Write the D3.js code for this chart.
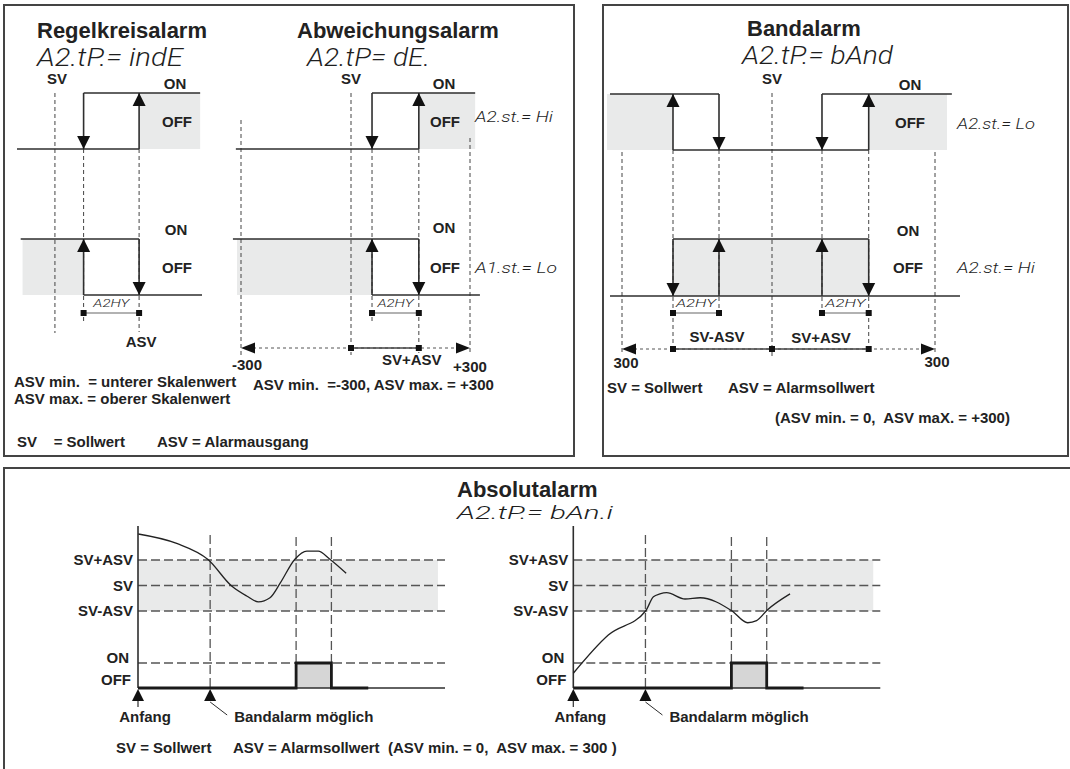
<!DOCTYPE html>
<html><head><meta charset="utf-8">
<script src="https://cdn.jsdelivr.net/npm/d3@7"></script>
<style>body{margin:0;background:#fff} svg{display:block} text{white-space:pre}</style>
</head><body><svg id="c" width="1070" height="769"></svg>
<script>
// ================= DATA =================
// Regelkreisalarm (units: % of relay width)
const rkSV = 20.5, rkLow = 36, rkASV = 66;
const rkTopOn = [[rkLow, 99]], rkTopOff = [[0, rkASV]], rkTopFill = [[rkASV, 99]];
const rkTopArrows = [[rkLow, 'down'], [rkASV, 'up']];
const rkBotOn = [[2, rkASV]], rkBotOff = [[rkLow, 100]], rkBotFill = [[3, rkLow]];
const rkBotArrows = [[rkLow, 'up'], [rkASV, 'down']];

// Abweichungsalarm (units: process value, -300 .. +300, SV = 0)
const dvScale = [-300, 0, 300];
const dvLow = 53, dvASV = 171;
const dvTopOn = [[dvLow, 313]], dvTopOff = [[-314, dvASV]], dvTopFill = [[dvASV, 313]];
const dvTopArrows = [[dvLow, 'down'], [dvASV, 'up']];
const dvBotOn = [[-322, dvASV]], dvBotOff = [[dvLow, 325]], dvBotFill = [[-311, dvLow]];
const dvBotArrows = [[dvLow, 'up'], [dvASV, 'down']];

// Bandalarm (units: process value, -300 .. +300, SV = 0)
const bdScale = [-300, 0, 300];
const bdLo = -198, bdLoH = -106, bdHiH = 92, bdHi = 178;
const bdTopOn = [[-324, bdLoH], [bdHiH, 331]], bdTopOff = [[bdLo, bdHi]];
const bdTopFill = [[-330, bdLo], [bdHi, 322]];
const bdTopArrows = [[bdLo, 'up'], [bdLoH, 'down'], [bdHiH, 'down'], [bdHi, 'up']];
const bdBotOn = [[bdLo, bdHi]], bdBotOff = [[-324, 346]], bdBotFill = [[bdLo, bdHi]];
const bdBotArrows = [[bdLo, 'down'], [bdLoH, 'up'], [bdHiH, 'up'], [bdHi, 'down']];

// Absolutalarm (time 0..100, value in ASV units relative to SV)
const absLevels = [{label: 'SV+ASV', v: 1}, {label: 'SV', v: 0}, {label: 'SV-ASV', v: -1}];
const absBandEnd = 97.7;
const absBandStart = 23.5;
const absPulse = [51.5, 63];
const absAlarm = [[0, 0], [51.5, 0], [51.5, 1], [63, 1], [63, 0], [75, 0]];
const absCurveLeft = [[0.1, 2.02], [12.6, 1.65], [22.9, 1.01], [30.5, -0.02], [35.4, -0.41], [39.2, -0.64],
  [43, -0.48], [46.3, 0.09], [51.1, 1.03], [55, 1.35], [58.7, 1.35], [62.5, 1.03], [67.8, 0.48]];
const absCurveRight = [[0, -3.44], [11.4, -1.94], [23.6, -0.99], [26.1, -0.44], [28.2, -0.33], [30.4, -0.28],
  [36.4, -0.53], [41.3, -0.48], [51.6, -0.99], [56.8, -1.46], [59.7, -1.38], [63.2, -0.96], [70.6, -0.33]];

// ================= DRAWING =================
const svg = d3.select('#c');
const gFill = svg.append('g'), gDash = svg.append('g'), gLine = svg.append('g'), gText = svg.append('g');
const INK = '#222', LINE = '#2e2e2e', DASH = '#444', FILL = '#e9eaea', PULSE = '#d6d6d6';
const BOLD = "'Liberation Sans', Arial, Helvetica, sans-serif";
const SEG = "Roboto, 'Open Sans', 'DejaVu Sans', sans-serif";

function label(s, x, y, anchor = 'start', size = 15) {
  return gText.append('text').attr('x', x).attr('y', y).attr('text-anchor', anchor)
    .attr('font-family', BOLD).attr('font-weight', 'bold').attr('font-size', size)
    .attr('fill', INK).attr('xml:space', 'preserve').text(s);
}
function seg(s, x, y, size, len) {
  return gText.append('text').attr('x', x).attr('y', y).attr('font-family', SEG)
    .attr('font-weight', 300).attr('font-style', 'italic').attr('font-size', size)
    .attr('fill', '#1e1e1e').attr('textLength', len).attr('lengthAdjust', 'spacingAndGlyphs')
    .attr('xml:space', 'preserve').text(s);
}
function ln(g, x1, y1, x2, y2, w, color, dash) {
  const l = g.append('line').attr('x1', x1).attr('y1', y1).attr('x2', x2).attr('y2', y2)
    .attr('stroke', color).attr('stroke-width', w);
  if (dash) l.attr('stroke-dasharray', dash);
  return l;
}
function vdash(x, y0, y1) { ln(gDash, x, y0, x, y1, 1, DASH, '4,3'); }
function arrowV(x, yTip, dir) {
  const h = 13, hw = 6.5;
  gLine.append('path').attr('d', `M${x},${yTip}L${x - hw},${yTip - dir * h}L${x + hw},${yTip - dir * h}Z`).attr('fill', '#111');
}
function arrowH(xTip, y, dir) {
  const h = 14, hw = 5.5;
  gLine.append('path').attr('d', `M${xTip},${y}L${xTip - dir * h},${y - hw}L${xTip - dir * h},${y + hw}Z`).attr('fill', '#111');
}
function sq(x, y) { gLine.append('rect').attr('x', x - 3).attr('y', y - 3).attr('width', 6).attr('height', 6).attr('fill', '#111'); }

function relay(x, yOn, yOff, on, off, fills, arrows) {
  fills.forEach(([a, b]) => gFill.append('rect').attr('x', x(a)).attr('y', yOn)
    .attr('width', x(b) - x(a)).attr('height', yOff - yOn).attr('fill', FILL));
  on.forEach(([a, b]) => ln(gLine, x(a), yOn, x(b), yOn, 1.6, LINE));
  off.forEach(([a, b]) => ln(gLine, x(a), yOff, x(b), yOff, 1.6, LINE));
  arrows.forEach(([v, dir]) => {
    ln(gLine, x(v), yOn, x(v), yOff, 1.6, LINE);
    arrowV(x(v), dir === 'up' ? yOn : yOff, dir === 'up' ? -1 : 1);
  });
}
function hyst(x, a, b, y, len) {
  ln(gLine, x(a), y, x(b), y, 1.1, '#666');
  sq(x(a), y); sq(x(b), y);
  const c = (x(a) + x(b)) / 2;
  seg('A2HY', c - len / 2, y - 6, 11, len);
}
function rangeLine(x, lo, hi, marks, solid, y) {
  ln(gDash, x(lo) + 12, y, x(hi) - 12, y, 1, '#555', '3,3');
  ln(gLine, x(solid[0]), y, x(solid[1]), y, 1.5, '#444');
  marks.forEach(m => sq(x(m), y));
  arrowH(x(lo), y, -1); arrowH(x(hi), y, 1);
}

// ---- panel frames
gLine.append('rect').attr('x', 4).attr('y', 5).attr('width', 570).attr('height', 451)
  .attr('fill', 'none').attr('stroke', '#444').attr('stroke-width', 2);
gLine.append('rect').attr('x', 603).attr('y', 5).attr('width', 465).attr('height', 451)
  .attr('fill', 'none').attr('stroke', '#444').attr('stroke-width', 2);
gLine.append('rect').attr('x', 4).attr('y', 468).attr('width', 1080).attr('height', 320)
  .attr('fill', 'none').attr('stroke', '#444').attr('stroke-width', 2);

// ---- Regelkreisalarm
{
  const x = d3.scaleLinear().domain([0, 100]).range([17, 202]);
  label('Regelkreisalarm', 37, 38, 'start', 22);
  seg('A2.tP.= indE', 37, 66, 25, 146);
  label('SV', x(rkSV) + 2, 84, 'middle');
  vdash(x(rkSV), 93, 333); vdash(x(rkLow), 149, 322); vdash(x(rkASV), 149, 332);
  relay(x, 93, 149, rkTopOn, rkTopOff, rkTopFill, rkTopArrows);
  relay(x, 239, 295, rkBotOn, rkBotOff, rkBotFill, rkBotArrows);
  label('ON', 175, 89, 'middle'); label('OFF', 177, 127, 'middle');
  label('ON', 176, 235, 'middle'); label('OFF', 177, 273, 'middle');
  hyst(x, rkLow, rkASV, 313, 36);
  label('ASV', x(rkASV) + 2, 347, 'middle');
  label('ASV min.  = unterer Skalenwert', 14, 387);
  label('ASV max. = oberer Skalenwert', 14, 404);
  label('SV    = Sollwert', 17, 447);
  label('ASV = Alarmausgang', 157, 447);
}

// ---- Abweichungsalarm
{
  const x = d3.scaleLinear().domain(dvScale).range([241, 351, 470]);
  label('Abweichungsalarm', 297, 38, 'start', 22);
  seg('A2.tP= dE.', 307, 66, 25, 123);
  label('SV', x(0), 84, 'middle');
  vdash(x(-300), 120, 357); vdash(x(0), 93, 355); vdash(x(dvLow), 149, 322);
  vdash(x(dvASV), 149, 353); vdash(x(300), 138, 353);
  relay(x, 93, 149, dvTopOn, dvTopOff, dvTopFill, dvTopArrows);
  relay(x, 239, 295, dvBotOn, dvBotOff, dvBotFill, dvBotArrows);
  label('ON', 444, 89, 'middle'); label('OFF', 445, 127, 'middle');
  label('ON', 444, 233, 'middle'); label('OFF', 445, 273, 'middle');
  seg('A2.st.= Hi', 475, 122, 14, 78);
  seg('A1.st.= Lo', 475, 273, 14, 82);
  hyst(x, dvLow, dvASV, 313, 36);
  rangeLine(x, -300, 300, [0, dvASV], [0, dvASV], 348);
  label('-300', x(-300) + 6, 370, 'middle');
  label('SV+ASV', x(dvASV) - 7, 365, 'middle');
  label('+300', x(300), 372, 'middle');
  label('ASV min.  =-300, ASV max. = +300', 253, 390);
}

// ---- Bandalarm
{
  const x = d3.scaleLinear().domain(bdScale).range([622, 772, 935]);
  label('Bandalarm', 747, 36, 'start', 22);
  seg('A2.tP.= bAnd', 742, 64, 25, 151);
  label('SV', x(0), 84, 'middle');
  vdash(x(-300), 152, 355); vdash(x(bdLo), 150, 352); vdash(x(bdLoH), 150, 317);
  vdash(x(0), 93, 358); vdash(x(bdHiH), 150, 317); vdash(x(bdHi), 150, 352); vdash(x(300), 152, 353);
  relay(x, 94, 150, bdTopOn, bdTopOff, bdTopFill, bdTopArrows);
  relay(x, 239, 296, bdBotOn, bdBotOff, bdBotFill, bdBotArrows);
  label('ON', 910, 90, 'middle'); label('OFF', 910, 128, 'middle');
  label('ON', 908, 236, 'middle'); label('OFF', 908, 273, 'middle');
  seg('A2.st.= Lo', 957, 129, 14, 78);
  seg('A2.st.= Hi', 957, 273, 14, 78);
  hyst(x, bdLo, bdLoH, 313, 40);
  hyst(x, bdHiH, bdHi, 313, 40);
  rangeLine(x, -300, 300, [bdLo, 0, bdHi], [bdLo, bdHi], 349);
  label('SV-ASV', 717, 342, 'middle');
  label('SV+ASV', 821, 343, 'middle');
  label('300', x(-300) + 4, 368, 'middle');
  label('300', x(300) + 2, 367, 'middle');
  label('SV = Sollwert', 607, 393);
  label('ASV = Alarmsollwert', 728, 393);
  label('(ASV min. = 0,  ASV maX. = +300)', 775, 423);
}

// ---- Absolutalarm
label('Absolutalarm', 457, 497, 'start', 22);
seg('A2.tP.= bAn.i', 457, 519, 18, 156);

function absChart(range, curve) {
  const t = d3.scaleLinear().domain([0, 100]).range(range);
  const v = d3.scaleLinear().domain([-1, 1]).range([611, 560]);
  const yOn = 663, yOff = 688;
  gFill.append('rect').attr('x', t(0)).attr('y', v(1)).attr('width', t(absBandEnd) - t(0))
    .attr('height', v(-1) - v(1)).attr('fill', FILL);
  gFill.append('rect').attr('x', t(absPulse[0])).attr('y', yOn).attr('width', t(absPulse[1]) - t(absPulse[0]))
    .attr('height', yOff - yOn).attr('fill', PULSE);
  absLevels.forEach(d => ln(gDash, t(0), v(d.v), t(100), v(d.v), 1.4, '#555', '9,4'));
  ln(gDash, t(0), yOn, t(100), yOn, 1.4, '#555', '9,4');
  ln(gDash, t(absBandStart), 535, t(absBandStart), yOff, 1.3, '#555', '9,4');
  absPulse.forEach(p => ln(gDash, t(p), 537, t(p), yOn, 1.3, '#555', '9,4'));
  ln(gLine, t(0), 526, t(0), yOff, 1.6, LINE);
  ln(gLine, t(0), yOff, t(100), yOff, 1.5, LINE);
  gLine.append('path').datum(absAlarm)
    .attr('d', d3.line().x(d => t(d[0])).y(d => d[1] ? yOn : yOff))
    .attr('fill', 'none').attr('stroke', '#1a1a1a').attr('stroke-width', 2.8);
  gLine.append('path').datum(curve)
    .attr('d', d3.line().x(d => t(d[0])).y(d => v(d[1])).curve(d3.curveMonotoneX))
    .attr('fill', 'none').attr('stroke', '#222').attr('stroke-width', 1.3);
  absLevels.forEach(d => label(d.label, t(0) - 5, v(d.v) + 5.4, 'end'));
  label('ON', t(0) - 9, yOn, 'end');
  label('OFF', t(0) - 7, yOff - 3, 'end');
  // Anfang / Bandalarm möglich markers
  [0, absBandStart].forEach(p => {
    const x = t(p);
    gLine.append('path').attr('d', `M${x},689L${x - 6},701L${x + 6},701Z`).attr('fill', '#111');
  });
  ln(gLine, t(0), 701, t(0), 707, 1.2, LINE);
  ln(gLine, t(absBandStart), 702, t(absBandStart) + 17, 715, 1, LINE);
  label('Anfang', t(0) + 7, 722, 'middle');
  label('Bandalarm möglich', t(absBandStart) + 24, 722);
}
absChart([138, 445], absCurveLeft);
absChart([573.3, 880.3], absCurveRight);

label('SV = Sollwert', 116, 753);
label('ASV = Alarmsollwert  (ASV min. = 0,  ASV max. = 300 )', 233, 753);
</script></body></html>
